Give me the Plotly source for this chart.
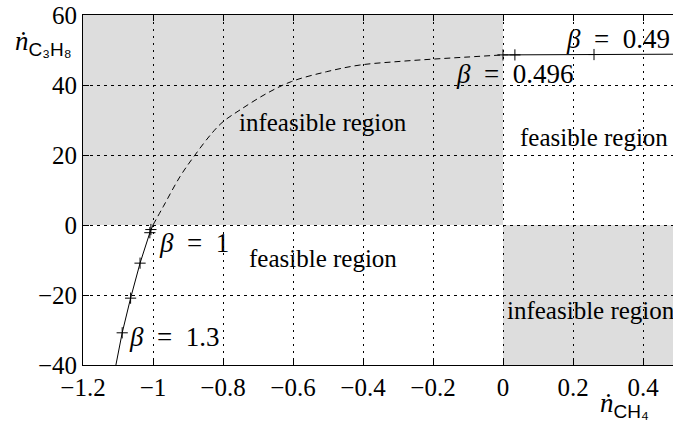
import plotly.graph_objects as go

# ---- data ----
low_x = [-1.106, -1.088, -1.064, -1.037, -1.009, -1.006, -1.0]
low_y = [-40.0, -30.8, -20.9, -10.9, -2.2, -1.3, 0.0]
low_mark_x = [-1.088, -1.064, -1.037, -1.009, -1.006]
low_mark_y = [-30.8, -20.9, -10.9, -2.2, -1.3]

mid_x = [-1.0, -0.971, -0.923, -0.88, -0.832, -0.8, -0.751, -0.675, -0.604, -0.504,
         -0.409, -0.3, -0.199, -0.1, 0.0]
mid_y = [0.0, 5.2, 13.8, 20.0, 26.2, 29.5, 32.9, 37.6, 41.0, 43.8,
         45.7, 46.7, 47.4, 48.0, 48.6]

up_x = [0.0, 0.034, 0.26, 0.49]
up_y = [48.6, 48.6, 48.7, 48.8]
up_mark_x = [0.0, 0.034, 0.26]
up_mark_y = [48.6, 48.6, 48.7]

x_ticks = [-1.2, -1.0, -0.8, -0.6, -0.4, -0.2, 0.0, 0.2, 0.4]
x_ticklabels = ["\u22121.2", "\u22121", "\u22120.8", "\u22120.6", "\u22120.4", "\u22120.2", "0", "0.2", "0.4"]
y_ticks = [-40, -20, 0, 20, 40, 60]
y_ticklabels = ["\u221240", "\u221220", "0", "20", "40", "60"]

X_MIN, X_MAX = -1.2, 0.4857
Y_MIN, Y_MAX = -40, 60

SERIF = "Liberation Serif, Times New Roman, serif"
SANS = "Liberation Sans, Arial, sans-serif"
FS = 25
EQ = "\u2002=\u2002"

fig = go.Figure()

fig.add_trace(go.Scatter(x=low_x, y=low_y, mode="lines",
                         line=dict(color="black", width=1), hoverinfo="skip"))
fig.add_trace(go.Scatter(x=mid_x, y=mid_y, mode="lines", line_shape="spline",
                         line=dict(color="black", width=1, dash="6px,4px"), hoverinfo="skip"))
fig.add_trace(go.Scatter(x=up_x, y=up_y, mode="lines",
                         line=dict(color="black", width=1), hoverinfo="skip"))
fig.add_trace(go.Scatter(x=low_mark_x + up_mark_x, y=low_mark_y + up_mark_y, mode="markers",
                         marker=dict(symbol="cross-thin", size=8,
                                     line=dict(color="black", width=1)),
                         hoverinfo="skip"))

# gray regions
fig.add_shape(type="rect", x0=X_MIN, x1=0, y0=0, y1=Y_MAX, layer="below",
              line_width=0, fillcolor="#dddddd")
fig.add_shape(type="rect", x0=0, x1=1.0, y0=Y_MIN, y1=0, layer="below",
              line_width=0, fillcolor="#dddddd")

def txt(x, y, s, xanchor="center", size=FS):
    fig.add_annotation(x=x, y=y, text=s, showarrow=False, xanchor=xanchor,
                       yanchor="middle", font=dict(family=SERIF, size=size, color="black"))

txt(-0.514, 29.4, "infeasible region")
txt(-0.514, -9.7, "feasible region")
txt(0.26, 24.9, "feasible region")
txt(0.006, -24.3, "infeasible region", xanchor="left")
txt(-0.990, -5.1, "<i>β</i>" + EQ + "1", xanchor="left", size=27)
txt(-1.075, -32, "<i>β</i>" + EQ + "1.3", xanchor="left", size=27)
txt(0.034, 43.2, "<i>β</i>" + EQ + "0.496", size=27)
txt(0.482, 53.1, "<i>β</i>" + EQ + "0.49", xanchor="right", size=27)

# axis labels
SUB = "<sub><span style='font-family:Liberation Sans, Arial, sans-serif;font-size:19px'>{}</span></sub>"
fig.add_annotation(xref="paper", yref="paper", x=(74 - 83) / 590, y=(365 - 43) / 350,
                   xanchor="right", yanchor="middle", showarrow=False,
                   text="<i>ṅ</i>" + SUB.format("C₃H₈"),
                   font=dict(family=SERIF, size=27, color="black"))
fig.add_annotation(xref="paper", yref="paper", x=(598 - 83) / 590, y=(365 - 405) / 350,
                   xanchor="left", yanchor="middle", showarrow=False,
                   text="<i>ṅ</i>" + SUB.format("CH₄"),
                   font=dict(family=SERIF, size=27, color="black"))

fig.update_layout(
    width=673, height=425,
    margin=dict(l=83, r=0, t=15, b=60),
    paper_bgcolor="white", plot_bgcolor="white",
    showlegend=False,
    font=dict(family=SERIF, size=FS, color="black"),
    xaxis=dict(range=[X_MIN, X_MAX], tickvals=x_ticks, ticktext=x_ticklabels,
               showline=True, linecolor="black", linewidth=1, mirror="ticks",
               ticks="inside", ticklen=6, tickcolor="black",
               showgrid=True, gridcolor="black", gridwidth=1, griddash="2px,5px",
               zeroline=False, tickfont=dict(family=SERIF, size=FS)),
    yaxis=dict(range=[Y_MIN, Y_MAX], tickvals=y_ticks, ticktext=y_ticklabels,
               showline=True, linecolor="black", linewidth=1, mirror=False,
               ticks="inside", ticklen=6, tickcolor="black",
               showgrid=True, gridcolor="black", gridwidth=1, griddash="3px,4px",
               zeroline=False, tickfont=dict(family=SERIF, size=FS)),
)

fig.write_html("out.html")
